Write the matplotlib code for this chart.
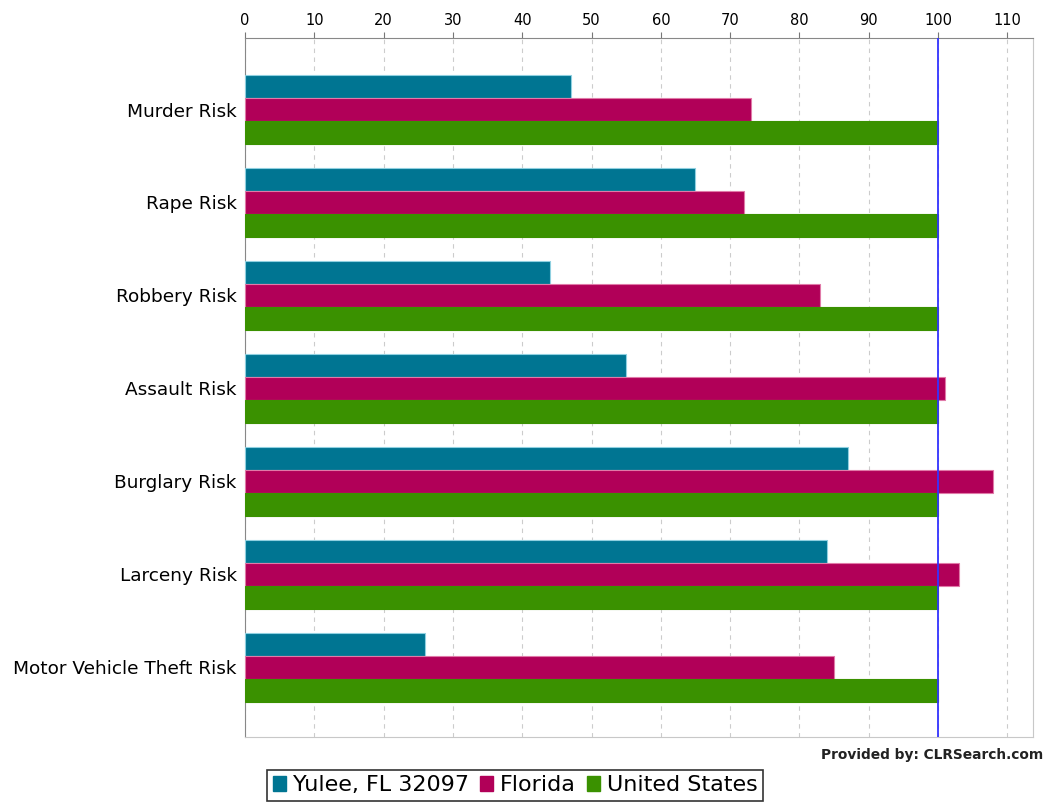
import numpy as np
import matplotlib.pyplot as plt
from matplotlib.patches import Patch

# crime risk index, 100 = national average
categories = ["Murder Risk", "Rape Risk", "Robbery Risk", "Assault Risk",
              "Burglary Risk", "Larceny Risk", "Motor Vehicle Theft Risk"]
series_names = ["Yulee, FL 32097", "Florida", "United States"]
yulee = [47, 65, 44, 55, 87, 84, 26]
florida = [73, 72, 83, 101, 108, 103, 85]
united_states = [100, 100, 100, 100, 100, 100, 100]
x_ticks = [0, 10, 20, 30, 40, 50, 60, 70, 80, 90, 100, 110]

colors = ["#007592", "#b10058", "#3a9100"]
edges = ["#8fd0e0", "#e07aa8", "#3a9100"]

fig = plt.figure(figsize=(10.47, 8.06), dpi=100)
ax = fig.add_axes([0.234, 0.0856, 0.7526, 0.8673])

y = np.arange(len(categories))
h = 0.247
for k, vals in enumerate([yulee, florida, united_states]):
    ax.barh(y + (k - 1) * h, vals, height=h, color=colors[k],
            edgecolor=edges[k], linewidth=0.8, zorder=3)

# national average reference line
ax.axvline(100, color="#3333ff", linewidth=1.3, zorder=4)

ax.set_xlim(0, 113.7)
ax.set_ylim(6.75, -0.77)
ax.set_xticks(x_ticks)
ax.xaxis.tick_top()
ax.tick_params(axis="x", labelsize=10.5, length=4, color="#777777", pad=3)
ax.set_yticks(y)
ax.set_yticklabels(categories, fontsize=13.3)
ax.tick_params(axis="y", length=0, pad=6)
ax.grid(True, axis="x", linestyle=(0, (4, 4)), color="#cccccc", linewidth=0.8, zorder=0)

for side in ["top", "left"]:
    ax.spines[side].set_color("#888888")
for side in ["right", "bottom"]:
    ax.spines[side].set_color("#c8c8c8")

fig.text(0.996, 0.063, "Provided by: CLRSearch.com", ha="right", va="center",
         fontsize=9.9, fontweight="bold", color="#222222")

handles = [Patch(facecolor=c, edgecolor=c) for c in colors]
leg = fig.legend(handles, series_names, loc="upper left",
                 bbox_to_anchor=(0.255, 0.045), ncol=3, fontsize=16,
                 frameon=True, fancybox=False, handlelength=0.6, handleheight=0.6,
                 handletextpad=0.3, columnspacing=0.5, borderpad=0.25,
                 borderaxespad=0)
leg.get_frame().set_edgecolor("black")
leg.get_frame().set_linewidth(1.2)

fig.savefig("out.png", dpi=100)
